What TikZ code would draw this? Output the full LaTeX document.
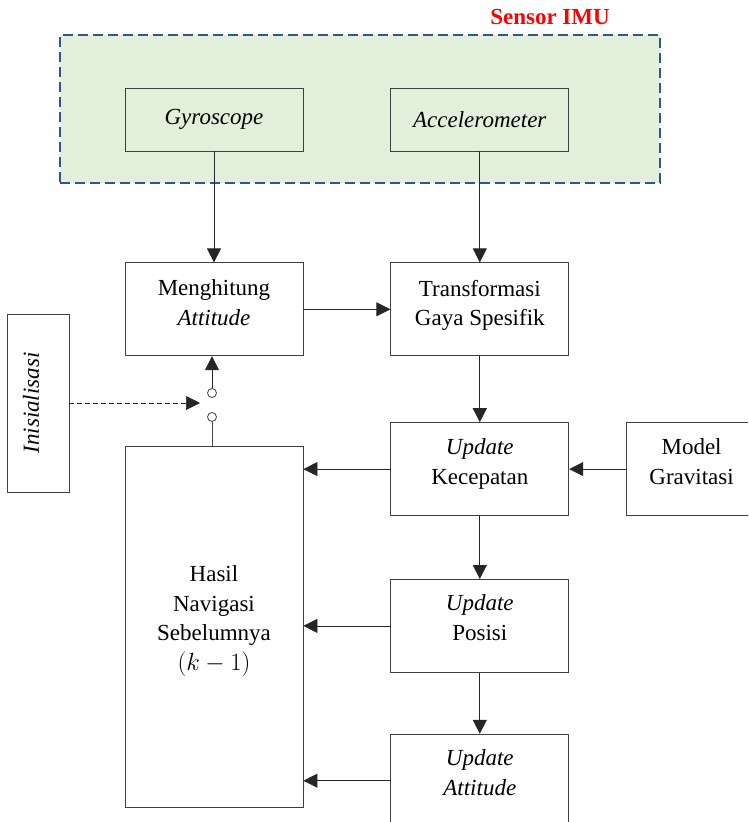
\documentclass[tikz,border=0pt]{standalone}
\usepackage{fontspec}
\setmainfont{Liberation Serif}
\usetikzlibrary{arrows.meta,positioning}
\definecolor{imugreen}{RGB}{226,239,218}
\definecolor{imublue}{RGB}{47,85,151}
\newcommand{\nodelift}[1]{\\[#1]\mbox{}}

\begin{document}
\begin{tikzpicture}
[x=1pt,y=1pt,
font=\fontsize{23}{29.5}\selectfont,
node distance=87pt,
block/.style={rectangle,draw=black!75,line width=0.8pt,fill=white,minimum width=178pt,minimum height=93pt,inner sep=0pt,align=center},
sensor/.style={block,fill=imugreen,minimum height=63pt},
imuframe/.style={rectangle,draw=imublue,fill=imugreen,line width=2.4pt,dash pattern=on 10pt off 5pt,minimum width=600pt,minimum height=148pt},
title/.style={text=red,font=\fontsize{23}{29.5}\selectfont\bfseries},
contact/.style={circle,draw=black!75,fill=white,line width=0.8pt,minimum size=9pt,inner sep=0pt},
post/.style={-{Triangle[length=14pt,width=14pt]},line width=0.8pt,draw=black!85},
wire/.style={line width=0.8pt,draw=black!70}]
\useasboundingbox (0,0) rectangle (748,-822);
\clip (0,0) rectangle (748,-822);
% sensor IMU
\node[imuframe] (imu) at (360,-109) {};
\node[title] (imutitle) at (550,-17) {Sensor IMU};
\node[sensor] (gyro) at (214,-119.5) {\textit{Gyroscope}};
\node[sensor] (accel) [right=of gyro] {\textit{Accelerometer}};
% blocks
\node[block] (attitude) [below=111pt of gyro] {Menghitung\\\textit{Attitude}\nodelift{-15.5pt}};
\node[block] (force) [right=of attitude] {Transformasi\\Gaya Spesifik\nodelift{-16.5pt}};
\node[block] (velocity) [below=66pt of force] {\textit{Update}\\Kecepatan\nodelift{-14.5pt}};
\node[block,minimum width=130pt] (gravity) [right=57pt of velocity] {Model\\Gravitasi\nodelift{-14.5pt}};
\node[block] (position) [below=63pt of velocity] {\textit{Update}\\Posisi\nodelift{-12.5pt}};
\node[block] (newattitude) [below=61pt of position] {\textit{Update}\\\textit{Attitude}\nodelift{-13.5pt}};
\node[block,minimum height=361pt] (previous) [below=90pt of attitude] {Hasil\\Navigasi\\Sebelumnya\\$(k-1)$\nodelift{-11.5pt}};
\node[block,minimum width=62pt,minimum height=178pt] (init) at (38,-403) {\hspace*{-14pt}\rotatebox{90}{\textit{Inisialisasi}}};
% switch
\node[contact] (upper) at (212,-393) {};
\node[contact] (lower) at (212,-417) {};
\coordinate (switchin) at (200,-403);
% connectors
\draw[post] (gyro) -- (attitude);
\draw[post] (accel) -- (force);
\draw[post] (attitude) -- (force);
\draw[post] (force) -- (velocity);
\draw[post] (gravity) -- (velocity);
\draw[post] (velocity) -- (velocity -| previous.east);
\draw[post] (velocity) -- (position);
\draw[post] (position) -- (position -| previous.east);
\draw[post] (position) -- (newattitude);
\draw[post] (newattitude) -- (newattitude -| previous.east);
\draw[wire] (lower |- previous.north) -- (lower);
\draw[post] (upper) -- (upper |- attitude.south);
\draw[post,dash pattern=on 5pt off 3pt,line width=0.6pt] (init) -- (switchin);
\end{tikzpicture}
\end{document}
